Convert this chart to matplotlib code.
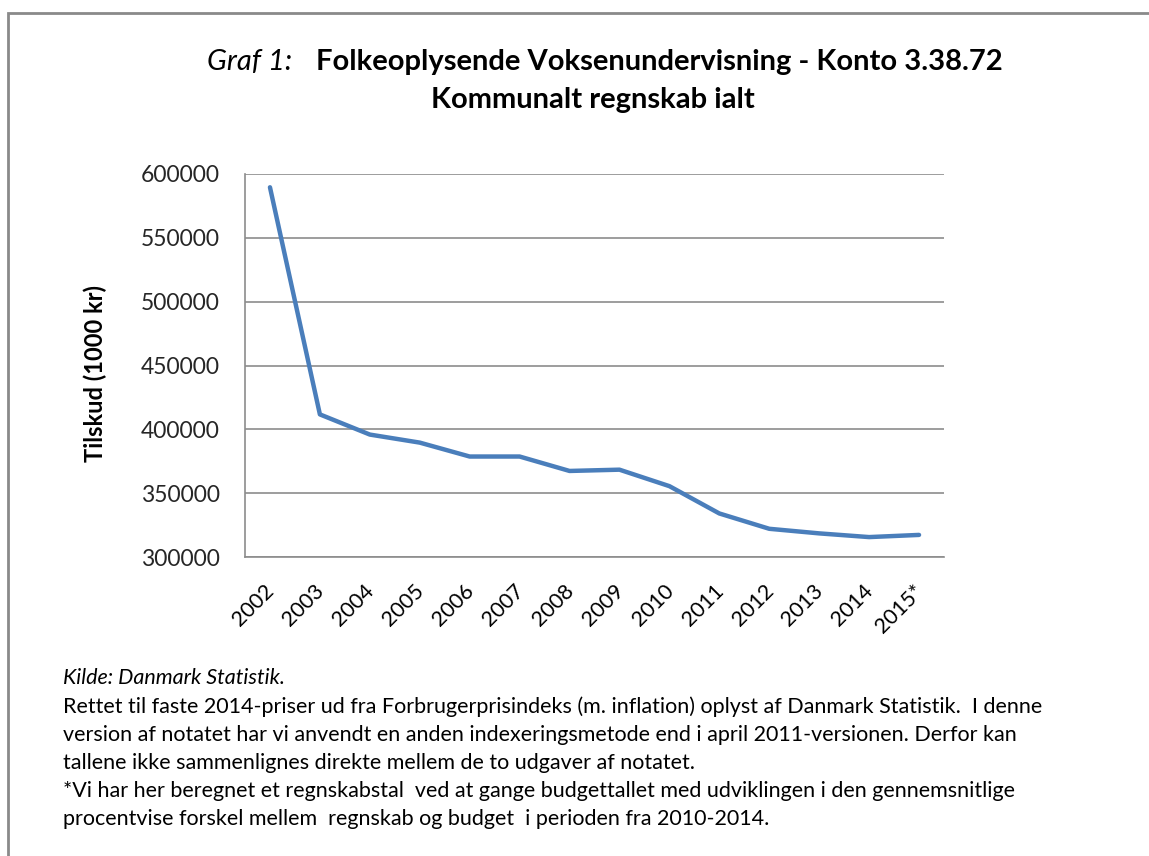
import matplotlib.pyplot as plt
import matplotlib.transforms as mtransforms
from matplotlib.patches import Rectangle

plt.rcParams['font.family'] = ['Lato', 'DejaVu Sans']

years = ['2002', '2003', '2004', '2005', '2006', '2007', '2008', '2009',
         '2010', '2011', '2012', '2013', '2014', '2015*']
tilskud = [589600, 411700, 395900, 389600, 378700, 378700, 367400, 368400,
           355500, 334100, 322100, 318500, 315600, 317300]
y_ticks = [300000, 350000, 400000, 450000, 500000, 550000, 600000]

footnote = [
    "Rettet til faste 2014-priser ud fra Forbrugerprisindeks (m. inflation) oplyst af Danmark Statistik.  I denne",
    "version af notatet har vi anvendt en anden indexeringsmetode end i april 2011-versionen. Derfor kan",
    "tallene ikke sammenlignes direkte mellem de to udgaver af notatet.",
    "*Vi har her beregnet et regnskabstal  ved at gange budgettallet med udviklingen i den gennemsnitlige",
    "procentvise forskel mellem  regnskab og budget  i perioden fra 2010-2014.",
]

W, H = 1149, 856
fig = plt.figure(figsize=(W / 100, H / 100), dpi=100)

# outer frame (only top and left visible, like the cropped screenshot)
fig.patches.append(Rectangle((8 / W, -0.1), 1.2, (H - 13) / H + 0.1,
                             transform=fig.transFigure, fill=False,
                             edgecolor='#8a8a8a', linewidth=2))

ax = fig.add_axes([245 / W, (H - 557) / H, 699 / W, 383 / H])
x = list(range(len(years)))
ax.plot(x, tilskud, color='#4a7ebb', linewidth=3.2, solid_joinstyle='round',
        solid_capstyle='round')

ax.set_xlim(-0.5, len(years) - 0.5)
ax.set_ylim(300000, 600000)
ax.set_yticks(y_ticks)
ax.set_yticklabels([str(v) for v in y_ticks])
ax.set_xticks(x)
ax.set_xticklabels(years, rotation=45, ha='right', rotation_mode='anchor')
ax.tick_params(axis='y', length=0, pad=18, labelsize=16.5, labelcolor='#262626')
ax.tick_params(axis='x', length=0, pad=17, labelsize=15.5, labelcolor='#000000')
shift = mtransforms.ScaledTranslation(-6 / 100, 0, fig.dpi_scale_trans)
for lab in ax.get_xticklabels():
    lab.set_transform(lab.get_transform() + shift)

ax.grid(axis='y', color='#8c8c8c', linewidth=1.2)
ax.set_axisbelow(True)
for s in ['top', 'right']:
    ax.spines[s].set_visible(False)
for s in ['left', 'bottom']:
    ax.spines[s].set_color('#8c8c8c')
    ax.spines[s].set_linewidth(1.2)

ax.set_ylabel('Tilskud (1000 kr)', fontsize=17, fontweight='bold')
ax.yaxis.set_label_coords(-138 / 699, 0.48)

# title
fig.text(292 / W, 1 - 62 / H, 'Graf 1:', ha='right', va='center',
         fontsize=21, style='italic')
fig.text(316 / W, 1 - 62 / H, 'Folkeoplysende Voksenundervisning - Konto 3.38.72',
         ha='left', va='center', fontsize=21, fontweight='bold')
fig.text(593 / W, 1 - 100 / H, 'Kommunalt regnskab ialt', ha='center',
         va='center', fontsize=21, fontweight='bold')

# notes
fig.text(63 / W, 1 - 678 / H, 'Kilde: Danmark Statistik.', ha='left',
         va='center', fontsize=15.5, style='italic')
for i, line in enumerate(footnote):
    fig.text(63 / W, 1 - (707 + 28 * i) / H, line, ha='left', va='center',
             fontsize=15.5)

fig.savefig('out.png', dpi=100)
